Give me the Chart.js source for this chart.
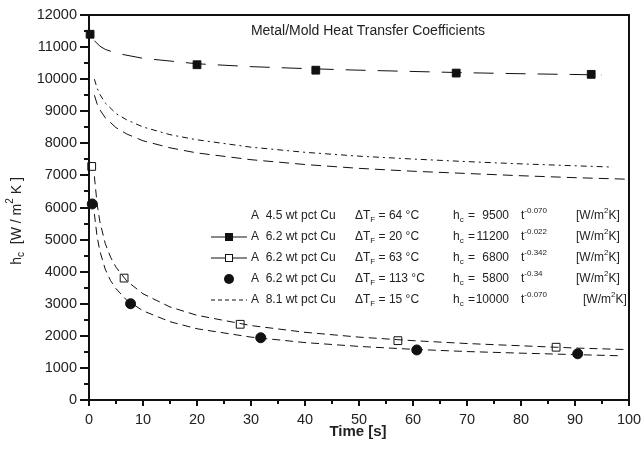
<!DOCTYPE html>
<html>
<head>
<meta charset="utf-8">
<script src="https://cdn.jsdelivr.net/npm/chart.js@4.4.1/dist/chart.umd.min.js"></script>
<style>
  html, body { margin: 0; padding: 0; background: #fff; }
  #chart { display: block; }
</style>
</head>
<body>
<canvas id="chart" width="643" height="458"></canvas>
<script>
// fitted curves
const tCu20 = [1, 2, 3, 5, 10, 20, 30, 40, 50, 60, 70, 80, 90, 95];
const hCu20 = [11200, 11030, 10930, 10810, 10650, 10480, 10390, 10330, 10280, 10240, 10200, 10170, 10145, 10130];

const tCu81 = [1, 1.5, 2, 3, 5, 7, 10, 15, 20, 30, 40, 50, 60, 70, 80, 90, 97];
const hCu81 = [10000, 9720, 9530, 9260, 8930, 8730, 8510, 8270, 8110, 7880, 7720, 7600, 7510, 7430, 7360, 7300, 7260];

const tCu45 = [1, 1.5, 2, 3, 5, 7, 10, 15, 20, 30, 40, 50, 60, 70, 80, 90, 100];
const hCu45 = [9500, 9230, 9050, 8800, 8490, 8290, 8080, 7860, 7700, 7490, 7340, 7220, 7130, 7060, 6990, 6930, 6880];

const tCu63 = [1, 1.5, 2, 3, 4, 5, 7, 10, 15, 20, 30, 40, 50, 60, 70, 80, 90, 100];
const hCu63 = [6970, 6110, 5570, 4880, 4450, 4140, 3710, 3310, 2900, 2640, 2320, 2110, 1960, 1850, 1760, 1690, 1620, 1570];

const tCu113 = [1, 1.5, 2, 3, 4, 5, 7, 10, 15, 20, 30, 40, 50, 60, 70, 80, 90, 98];
const hCu113 = [5800, 5090, 4650, 4080, 3720, 3470, 3110, 2780, 2440, 2220, 1960, 1790, 1670, 1580, 1510, 1460, 1415, 1380];

// measured points
const tPts20 = [0.2, 20, 42, 68, 93];
const hPts20 = [11400, 10450, 10280, 10190, 10150];
const tPts63 = [0.5, 6.5, 28, 57.2, 86.5];
const hPts63 = [7280, 3800, 2360, 1850, 1645];
const tPts113 = [0.6, 7.7, 31.8, 60.7, 90.5];
const hPts113 = [6110, 3000, 1940, 1560, 1440];

// legend rows
const legendAlloy = ['A  4.5 wt pct Cu', 'A  6.2 wt pct Cu', 'A  6.2 wt pct Cu', 'A  6.2 wt pct Cu', 'A  8.1 wt pct Cu'];
const legendDT = ['64', '20', '63', '113', '15'];
const legendH = ['9500', '11200', '6800', '5800', '10000'];
const legendExp = ['-0.070', '-0.022', '-0.342', '-0.34', '-0.070'];

const pts = (xs, ys) => xs.map((x, i) => ({ x: x, y: ys[i] }));

function curve(xs, ys, dash) {
    return {
        data: pts(xs, ys),
        showLine: true,
        borderColor: '#111',
        borderWidth: 1,
        borderDash: dash,
        pointRadius: 0,
        fill: false
    };
}

function marks(xs, ys, style, radius, fillColor) {
    return {
        data: pts(xs, ys),
        showLine: false,
        pointStyle: style,
        pointRadius: radius,
        pointBackgroundColor: fillColor,
        pointBorderColor: '#111',
        pointBorderWidth: 1,
        clip: false
    };
}

const FONT = '"Liberation Sans", Arial, Helvetica, sans-serif';

// text with sub/superscripts
function richText(ctx, x, y, parts, size) {
    let cx = x;
    parts.forEach(p => {
        const kind = p[1] || 'n';
        const s = kind === 'n' ? size : Math.round(size * 0.7);
        ctx.font = s + 'px ' + FONT;
        let dy = 0;
        if (kind === 'sub') dy = size * 0.3;
        if (kind === 'sup') dy = -size * 0.45;
        ctx.fillText(p[0], cx, y + dy);
        cx += ctx.measureText(p[0]).width;
    });
    return cx;
}

const decor = {
    id: 'decor',
    afterDraw(chart) {
        const ctx = chart.ctx;
        const a = chart.chartArea;
        const xs = chart.scales.x, ys = chart.scales.y;
        ctx.save();
        ctx.strokeStyle = '#111';
        ctx.fillStyle = '#111';

        // frame
        ctx.lineWidth = 2;
        ctx.strokeRect(a.left, a.top, a.right - a.left, a.bottom - a.top);

        // ticks
        ctx.beginPath();
        for (let v = 0; v <= 100; v += 5) {
            const px = Math.round(xs.getPixelForValue(v));
            ctx.moveTo(px, a.bottom);
            ctx.lineTo(px, a.bottom + (v % 10 === 0 ? 6 : 4));
        }
        for (let v = 0; v <= 12000; v += 500) {
            const py = Math.round(ys.getPixelForValue(v));
            ctx.moveTo(a.left, py);
            ctx.lineTo(a.left - (v % 1000 === 0 ? 9 : 5), py);
        }
        ctx.stroke();

        // title
        ctx.textBaseline = 'middle';
        ctx.textAlign = 'center';
        ctx.font = '14px ' + FONT;
        ctx.fillStyle = '#222';
        ctx.fillText('Metal/Mold Heat Transfer Coefficients', 368, 31);

        // x title
        ctx.font = 'bold 15px ' + FONT;
        ctx.fillText('Time [s]', 358, 432);

        // y title
        ctx.save();
        ctx.translate(17, 221);
        ctx.rotate(-Math.PI / 2);
        ctx.textAlign = 'left';
        const yParts = [['h'], ['c', 'sub'], ['  [W / m'], ['2', 'sup'], [' K ]']];
        let w = 0;
        yParts.forEach(p => {
            ctx.font = (p[1] ? 10 : 14) + 'px ' + FONT;
            w += ctx.measureText(p[0]).width;
        });
        richText(ctx, -w / 2, 0, yParts, 14);
        ctx.restore();

        // legend
        ctx.textAlign = 'left';
        const rowY = [216, 237, 258, 279, 300];
        const fs = 12;
        rowY.forEach((ry, i) => {
            ctx.fillStyle = '#222';
            richText(ctx, 251, ry, [[legendAlloy[i]]], fs);
            richText(ctx, 355, ry, [['\u0394T'], ['F', 'sub'], [' = ' + legendDT[i] + ' \u00B0C']], fs);
            richText(ctx, 453, ry, [['h'], ['c', 'sub']], fs);
            richText(ctx, 468, ry, [['=']], fs);
            ctx.textAlign = 'right';
            ctx.font = fs + 'px ' + FONT;
            ctx.fillText(legendH[i], 509, ry);
            ctx.textAlign = 'left';
            richText(ctx, 521, ry, [['t'], [legendExp[i], 'sup']], fs);
            richText(ctx, i === 4 ? 583 : 576, ry, [['[W/m'], ['2', 'sup'], ['K]']], fs);
        });

        // legend samples
        ctx.lineWidth = 1;
        ctx.strokeStyle = '#111';
        [1, 2].forEach(i => {
            ctx.beginPath();
            ctx.moveTo(211, rowY[i]);
            ctx.lineTo(247, rowY[i]);
            ctx.stroke();
        });
        ctx.fillStyle = '#111';
        ctx.fillRect(225, rowY[1] - 4, 8, 8);
        ctx.fillStyle = '#fff';
        ctx.fillRect(225, rowY[2] - 4, 8, 8);
        ctx.strokeRect(225.5, rowY[2] - 3.5, 7, 7);
        ctx.fillStyle = '#111';
        ctx.beginPath();
        ctx.arc(229, rowY[3], 5, 0, Math.PI * 2);
        ctx.fill();
        ctx.setLineDash([4, 3]);
        ctx.beginPath();
        ctx.moveTo(211, rowY[4]);
        ctx.lineTo(247, rowY[4]);
        ctx.stroke();
        ctx.setLineDash([]);

        ctx.restore();
    }
};

new Chart(document.getElementById('chart'), {
    type: 'scatter',
    data: {
        datasets: [
            curve(tCu20, hCu20, [20, 12]),
            curve(tCu81, hCu81, [6, 4, 2, 4]),
            curve(tCu45, hCu45, [10, 6]),
            curve(tCu63, hCu63, [8, 5]),
            curve(tCu113, hCu113, [8, 5]),
            marks(tPts20, hPts20, 'rect', 5.5, '#111'),
            marks(tPts63, hPts63, 'rect', 5.5, '#fff'),
            marks(tPts113, hPts113, 'circle', 5, '#111')
        ]
    },
    options: {
        responsive: false,
        animation: false,
        layout: { padding: { top: 15, right: 14, left: 0, bottom: 0 } },
        plugins: {
            legend: { display: false },
            tooltip: { enabled: false }
        },
        scales: {
            x: {
                type: 'linear',
                min: 0,
                max: 100,
                grid: { display: false, drawTicks: true, tickLength: 11 },
                border: { display: false },
                ticks: { stepSize: 10, padding: 0, color: '#222', font: { family: FONT, size: 14.5 }, callback: v => String(v) },
                afterFit: s => { s.height = 58; }
            },
            y: {
                min: 0,
                max: 12000,
                grid: { display: false, drawTicks: true, tickLength: 12 },
                border: { display: false },
                ticks: { stepSize: 1000, padding: 0, color: '#222', font: { family: FONT, size: 14.5 }, callback: v => String(v) },
                afterFit: s => { s.width = 89; }
            }
        }
    },
    plugins: [decor]
});
</script>
</body>
</html>
